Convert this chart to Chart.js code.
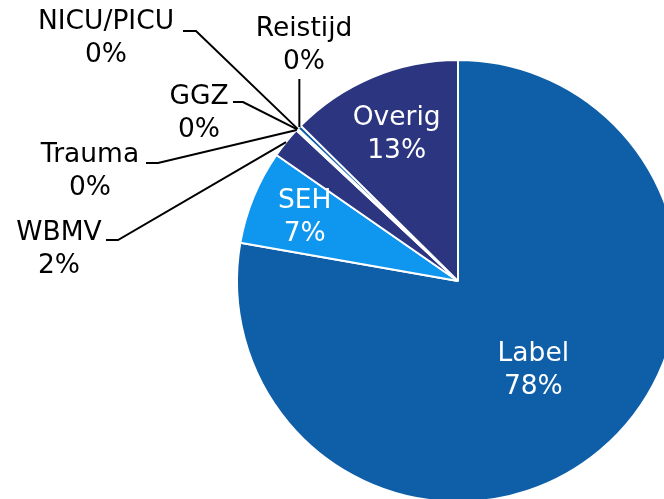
<!DOCTYPE html>
<html lang="nl"><head><meta charset="utf-8"><title>Verdeling</title>
<script src="https://cdn.jsdelivr.net/npm/chart.js@4.4.1/dist/chart.umd.min.js"></script>
<style>
  html, body { margin: 0; width: 664px; height: 499px; overflow: hidden; background: #fff; }
  #wrap { position: absolute; left: 0; top: 0; width: 700px; height: 525px; }
</style></head>
<body>
<div id="wrap"><canvas id="c" width="700" height="525"></canvas></div>
<script>
// Slices clockwise from 12 o'clock (percent).
const CATEGORIES = ['Label', 'SEH', 'WBMV', 'Trauma', 'GGZ', 'NICU/PICU', 'Reistijd', 'Overig'];
const VALUES     = [77.8, 6.9, 2.3, 0.05, 0.05, 0.05, 0.3, 12.6];
const COLORS     = ['#0e5fa8', '#0f96ee', '#2b3580', '#1b7fd0', '#5aa0dc', '#3c4c9a', '#0e5fa8', '#2b3580'];

// Where the small slices get their callouts: text centre, and the short
// horizontal stub the leader line starts from (x0, x1, y).
const OUTSIDE = {
  'WBMV':      { x: 59,  y: 233, stub: [106, 118, 240] },
  'Trauma':    { x: 90,  y: 155, stub: [146, 158, 163] },
  'GGZ':       { x: 199, y: 97,  stub: [233, 243, 102] },
  'NICU/PICU': { x: 106, y: 22,  stub: [183, 196, 31] },
  'Reistijd':  { x: 304, y: 29,  drop: 79 },
};
// Big slices carry their label inside, at this fraction of the radius.
const INSIDE = { 'Label': 0.53, 'SEH': 0.75, 'Overig': 0.72 };

const FONT = '26.5px "DejaVu Sans", Verdana, sans-serif';
const LINE = 33;
const pct = v => Math.round(v) + '%';

const callouts = {
  id: 'callouts',
  afterDatasetsDraw(chart) {
    const ctx = chart.ctx;
    const arcs = chart.getDatasetMeta(0).data;
    ctx.save();
    ctx.font = FONT;
    ctx.textAlign = 'center';
    ctx.textBaseline = 'middle';
    arcs.forEach((arc, i) => {
      const name = CATEGORIES[i];
      const { x, y, startAngle, endAngle, outerRadius } = arc.getProps(['x', 'y', 'startAngle', 'endAngle', 'outerRadius'], true);
      const mid = (startAngle + endAngle) / 2;
      if (INSIDE[name] != null) {
        const r = outerRadius * INSIDE[name];
        const cx = x + Math.cos(mid) * r, cy = y + Math.sin(mid) * r;
        ctx.fillStyle = '#ffffff';
        ctx.fillText(name, cx, cy - LINE / 2);
        ctx.fillText(pct(VALUES[i]), cx, cy + LINE / 2);
        return;
      }
      const o = OUTSIDE[name];
      if (!o) return;
      const ex = x + Math.cos(mid) * outerRadius, ey = y + Math.sin(mid) * outerRadius;
      ctx.strokeStyle = '#000';
      ctx.lineWidth = 2;
      ctx.beginPath();
      if (o.stub) {
        ctx.moveTo(o.stub[0], o.stub[2]);
        ctx.lineTo(o.stub[1], o.stub[2]);
        ctx.lineTo(ex, ey);
      } else {
        ctx.moveTo(ex, o.drop);
        ctx.lineTo(ex, ey);
      }
      ctx.stroke();
      ctx.fillStyle = '#000';
      ctx.fillText(name, o.x, o.y);
      ctx.fillText(pct(VALUES[i]), o.x, o.y + LINE);
    });
    ctx.restore();
  },
};

new Chart(document.getElementById('c'), {
  type: 'pie',
  data: {
    labels: CATEGORIES,
    datasets: [{ data: VALUES, backgroundColor: COLORS, borderColor: '#ffffff', borderWidth: 2 }],
  },
  options: {
    responsive: false, animation: false, devicePixelRatio: 1,
    layout: { padding: { left: 236, top: 59, right: 20, bottom: 22 } },
    plugins: { legend: { display: false }, tooltip: { enabled: false } },
  },
  plugins: [callouts],
});
</script>
</body></html>
